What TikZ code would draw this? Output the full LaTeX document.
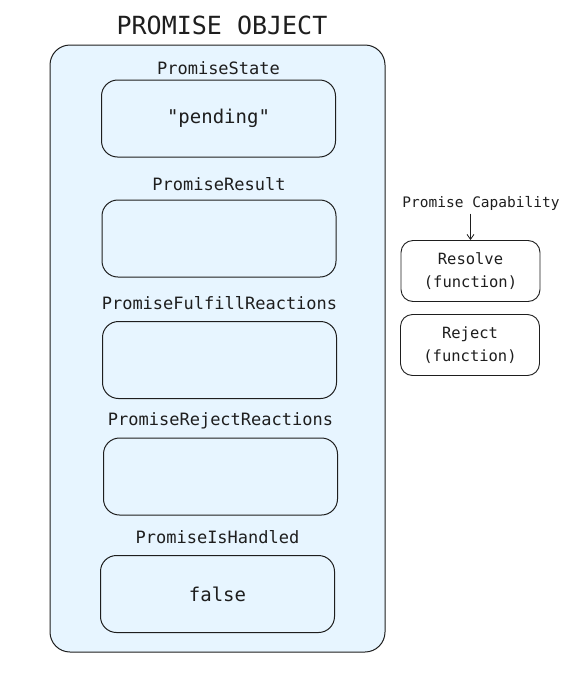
\documentclass[tikz,border=0pt]{standalone}
\usepackage{fontspec}
\setmonofont{DejaVu Sans Mono}
\usetikzlibrary{arrows.meta,positioning}
\definecolor{sketchfill}{HTML}{E7F5FF}
\definecolor{sketchline}{HTML}{1E1E1E}

\begin{document}
\begin{tikzpicture}[
  x=1pt, y=-1pt,
  objbox/.style={draw=sketchline, line width=1pt, rounded corners=20pt, fill=sketchfill},
  slot/.style={draw=sketchline, line width=1pt, rounded corners=16pt, fill=sketchfill,
    minimum width=234pt, minimum height=77pt, font=\ttfamily\fontsize{19}{22}\selectfont, text=sketchline},
  slotlabel/.style={font=\ttfamily\fontsize{17}{20}\selectfont, text=sketchline, inner sep=1pt},
  fnbox/.style={draw=sketchline, line width=0.9pt, rounded corners=12pt, fill=white,
    minimum width=139pt, minimum height=61pt, align=center,
    font=\ttfamily\fontsize{15.5}{23}\selectfont, text=sketchline}
]
  \useasboundingbox (0,0) rectangle (570,675);

  % the promise object
  \node[font=\ttfamily\fontsize{25}{28}\selectfont, text=sketchline] (title) at (222,25) {PROMISE OBJECT};
  \draw[objbox] (50,45) rectangle (385,652);

  \node[slot] (state) at (218.5,118.5) {"pending"};
  \node[slot] (result) at (219,238.5) {};
  \node[slot] (fulfill) at (219.5,360) {};
  \node[slot] (reject) at (220.5,476.5) {};
  \node[slot] (handled) at (217.5,594) {false};

  \node[slotlabel, above=4pt of state] (state-l) {PromiseState};
  \node[slotlabel, above=8pt of result] (result-l) {PromiseResult};
  \node[slotlabel, above=10pt of fulfill] (fulfill-l) {PromiseFulfillReactions};
  \node[slotlabel, above=7pt of reject] (reject-l) {PromiseRejectReactions};
  \node[slotlabel, above=10pt of handled] (handled-l) {PromiseIsHandled};

  % capability
  \node[font=\ttfamily\fontsize{14.5}{17}\selectfont, text=sketchline] (cap) at (481,203) {Promise Capability};
  \node[fnbox] (resolve) at (470.5,271) {Resolve\\(function)};
  \node[fnbox] (rejectfn) at (470,345) {Reject\\(function)};
  \draw[-{Straight Barb[length=5pt,width=7pt]}, sketchline, line width=0.8pt] (cap.south -| resolve.north) -- (resolve.north);
\end{tikzpicture}
\end{document}
